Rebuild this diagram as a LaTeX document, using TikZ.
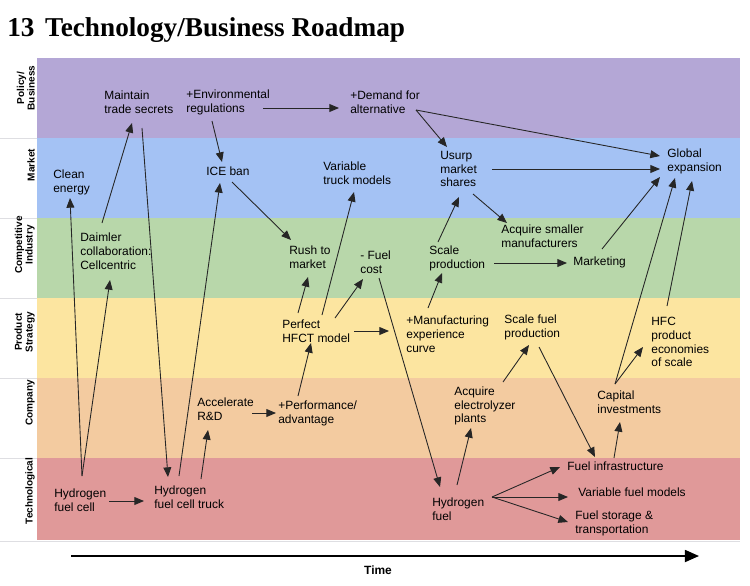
\documentclass[tikz,border=0pt]{standalone}
\usepackage{fontspec}
\setmainfont{Liberation Serif}
\newfontfamily\labelfont{Liberation Sans}
\usetikzlibrary{arrows.meta}

\definecolor{policyband}{RGB}{180,167,214}
\definecolor{marketband}{RGB}{164,194,244}
\definecolor{industryband}{RGB}{184,215,170}
\definecolor{productband}{RGB}{252,229,160}
\definecolor{companyband}{RGB}{243,203,160}
\definecolor{techband}{RGB}{224,153,153}
\definecolor{rulegray}{RGB}{222,222,226}

\begin{document}
\begin{tikzpicture}[x=0.02cm,y=-0.02cm,
  item/.style={anchor=west, align=left, inner sep=0pt,
    font=\labelfont\fontsize{6.8pt}{7.9pt}\selectfont},
  lane/.style={rotate=90, anchor=south, align=center, inner sep=0pt,
    font=\labelfont\bfseries\fontsize{5.7pt}{6pt}\selectfont},
  link/.style={draw=black!85, line width=0.5pt,
    -{Triangle[length=5.5pt,width=4.5pt]}},
  timeline/.style={draw=black, line width=1.1pt,
    -{Triangle[length=8pt,width=6.8pt]}}]
\useasboundingbox (0,0) rectangle (750,585);

% title
\node[anchor=base west, inner sep=0pt,
  font=\bfseries\fontsize{15.5pt}{18pt}\selectfont] (title) at (7,36)
  {13\hspace{6pt}Technology/Business Roadmap};

% swim lanes
\fill[policyband]   (37,58)  rectangle (740,138);
\fill[marketband]   (37,138) rectangle (740,218);
\fill[industryband] (37,218) rectangle (740,298);
\fill[productband]  (37,298) rectangle (740,378);
\fill[companyband]  (37,378) rectangle (740,458);
\fill[techband]     (37,458) rectangle (740,540);
\foreach \yy in {138,218,298,378,458}
  \draw[rulegray, line width=0.4pt] (0,\yy) -- (37,\yy);
\draw[rulegray, line width=0.4pt] (0,541) -- (740,541);

% lane titles
\node[lane] (l1) at (35,88)  {Policy/\\Business};
\node[lane] (l2) at (35,165) {Market};
\node[lane] (l3) at (35,245) {Competitive\\Industry};
\node[lane] (l4) at (35,332) {Product\\Strategy};
\node[lane] (l5) at (35,403) {Company};
\node[lane] (l6) at (35,491) {Technological};

% policy / business
\node[item] (secrets) at (104,102) {Maintain\\trade secrets};
\node[item] (envreg)  at (186,102) {+Environmental\\regulations};
\node[item] (demand)  at (350,102) {+Demand for\\alternative};

% market
\node[item] (clean)    at (53,182)  {Clean\\energy};
\node[item] (iceban)   at (206,171) {ICE ban};
\node[item] (vartruck) at (323,173) {Variable\\truck models};
\node[item] (usurp)    at (440,169) {Usurp\\market\\shares};
\node[item] (global)   at (667,161) {Global\\expansion};

% competitive industry
\node[item] (daimler)   at (80,251)  {Daimler\\collaboration:\\Cellcentric};
\node[item] (rush)      at (289,257) {Rush to\\market};
\node[item] (fuelcost)  at (360,262) {- Fuel\\cost};
\node[item] (scaleprod) at (429,258) {Scale\\production};
\node[item] (acqsmall)  at (501,236) {Acquire smaller\\manufacturers};
\node[item] (marketing) at (573,262) {Marketing};

% product strategy
\node[item] (perfect)   at (282,331) {Perfect\\HFCT model};
\node[item] (mfgcurve)  at (406,334) {+Manufacturing\\experience\\curve};
\node[item] (scalefuel) at (504,327) {Scale fuel\\production};
\node[item] (hfcscale)  at (651,342) {HFC\\product\\economies\\of scale};

% company
\node[item] (accel)   at (197,409) {Accelerate\\R\&D};
\node[item] (perf)    at (278,413) {+Performance/\\advantage};
\node[item] (electro) at (454,406) {Acquire\\electrolyzer\\plants};
\node[item] (capital) at (597,402) {Capital\\investments};

% technological
\node[item] (hfcell)  at (54,500)  {Hydrogen\\fuel cell};
\node[item] (hftruck) at (154,497) {Hydrogen\\fuel cell truck};
\node[item] (h2fuel)  at (432,509) {Hydrogen\\fuel};
\node[item] (infra)   at (567,466) {Fuel infrastructure};
\node[item] (varfuel) at (578,492) {Variable fuel models};
\node[item] (storage) at (575,523) {Fuel storage \&\\transportation};

% causal links
\draw[link] ([shift={(22,-28)}]daimler.west) -- ([shift={(28,21)}]secrets.west);
\draw[link] ([shift={(38,26)}]secrets.west) -- ([shift={(14,-20)}]hftruck.west);
\draw[link] ([shift={(26,19)}]envreg.west) -- ([shift={(16,-9)}]iceban.west);
\draw[link] ([shift={(77,6)}]envreg.west) -- ([shift={(-11,6)}]demand.west);
\draw[link] ([shift={(26,11)}]iceban.west) -- ([shift={(2,-17)}]rush.west);
\draw[link] ([shift={(25,-21)}]hftruck.west) -- ([shift={(14,12)}]iceban.west);
\draw[link] ([shift={(28,-24)}]hfcell.west) -- ([shift={(17,16)}]clean.west);
\draw[link] ([shift={(28,-24)}]hfcell.west) -- ([shift={(30,29)}]daimler.west);
\draw[link] ([shift={(40,-16)}]perfect.west) -- ([shift={(31,19)}]vartruck.west);
\draw[link] ([shift={(16,-18)}]perfect.west) -- ([shift={(19,20)}]rush.west);
\draw[link] ([shift={(53,-13)}]perfect.west) -- ([shift={(3,17)}]fuelcost.west);
\draw[link] ([shift={(19,16)}]fuelcost.west) -- ([shift={(8,-22)}]h2fuel.west);
\draw[link] ([shift={(72,0)}]perfect.west) -- ([shift={(-17,-3)}]mfgcurve.west);
\draw[link] ([shift={(55,1)}]hfcell.west) -- ([shift={(-10,4)}]hftruck.west);
\draw[link] ([shift={(47,-18)}]hftruck.west) -- ([shift={(11,21)}]accel.west);
\draw[link] ([shift={(55,4)}]accel.west) -- ([shift={(-2,0)}]perf.west);
\draw[link] ([shift={(20,-17)}]perf.west) -- ([shift={(29,12)}]perfect.west);
\draw[link] ([shift={(66,8)}]demand.west) -- ([shift={(7,-22)}]usurp.west);
\draw[link] ([shift={(66,8)}]demand.west) -- ([shift={(-7,-5)}]global.west);
\draw[link] ([shift={(52,0)}]usurp.west) -- ([shift={(-7,8)}]global.west);
\draw[link] ([shift={(33,25)}]usurp.west) -- ([shift={(6,-13)}]acqsmall.west);
\draw[link] ([shift={(9,-16)}]scaleprod.west) -- ([shift={(19,28)}]usurp.west);
\draw[link] ([shift={(65,5)}]scaleprod.west) -- ([shift={(-6,1)}]marketing.west);
\draw[link] ([shift={(29,-13)}]marketing.west) -- ([shift={(-7,16)}]global.west);
\draw[link] ([shift={(18,-18)}]capital.west) -- ([shift={(8,17)}]global.west);
\draw[link] ([shift={(16,-36)}]hfcscale.west) -- ([shift={(25,20)}]global.west);
\draw[link] ([shift={(22,-26)}]mfgcurve.west) -- ([shift={(13,15)}]scaleprod.west);
\draw[link] ([shift={(25,-24)}]h2fuel.west) -- ([shift={(17,22)}]electro.west);
\draw[link] ([shift={(49,-24)}]electro.west) -- ([shift={(25,18)}]scalefuel.west);
\draw[link] ([shift={(35,20)}]scalefuel.west) -- ([shift={(28,-9)}]infra.west);
\draw[link] ([shift={(47,-8)}]infra.west) -- ([shift={(23,20)}]capital.west);
\draw[link] ([shift={(18,-18)}]capital.west) -- ([shift={(-8,5)}]hfcscale.west);
\draw[link] ([shift={(60,-12)}]h2fuel.west) -- ([shift={(-7,1)}]infra.west);
\draw[link] ([shift={(60,-12)}]h2fuel.west) -- ([shift={(-10,5)}]varfuel.west);
\draw[link] ([shift={(60,-12)}]h2fuel.west) -- ([shift={(-7,-1)}]storage.west);

% time axis
\coordinate (tstart) at (71,556);
\coordinate (tend) at (699,556);
\draw[timeline] (tstart) -- (tend);
\node[inner sep=0pt, font=\labelfont\bfseries\fontsize{6.8pt}{8pt}\selectfont]
  (time) at (378,570) {Time};
\end{tikzpicture}
\end{document}
